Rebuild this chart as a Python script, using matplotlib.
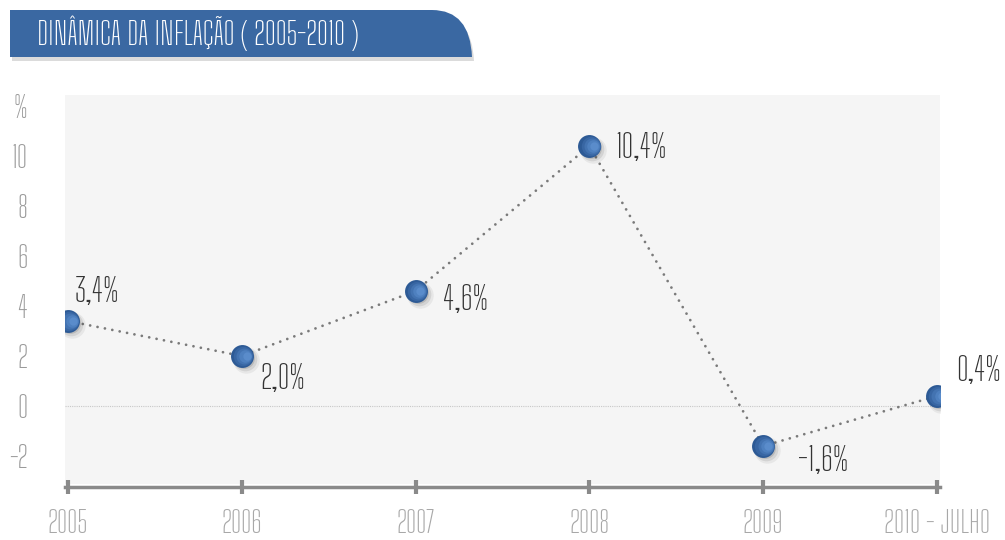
import matplotlib
matplotlib.use("Agg")
from matplotlib import pyplot as plt
from matplotlib.path import Path
from matplotlib.patches import PathPatch
import matplotlib.transforms as mtransforms

years = ["2005", "2006", "2007", "2008", "2009", "2010 - JULHO"]
inflation = [3.4, 2.0, 4.6, 10.4, -1.6, 0.4]
value_labels = ["3,4%", "2,0%", "4,6%", "10,4%", "-1,6%", "0,4%"]
y_ticks = [-2, 0, 2, 4, 6, 8, 10, 12]
y_tick_labels = ["-2", "0", "2", "4", "6", "8", "10", "%"]
title = "DINÂMICA DA INFLAÇÃO ( 2005-2010 )"

# label offsets in pixels from each marker
label_offsets = [(7, 28), (19, -23), (27, -10), (26, -3), (35, -15), (19, 25)]

FONT = ["Big Shoulders Text", "Pathway Gothic One", "DejaVu Sans"]
plt.rcParams["font.family"] = FONT
plt.rcParams["font.weight"] = 300

W, H = 1005, 540
fig = plt.figure(figsize=(W / 100, H / 100), dpi=100)
fig.patch.set_facecolor("white")

# axes box in pixels: left 65, right 940, top 95, bottom 484
ax = fig.add_axes([65 / W, 1 - 484 / H, (940 - 65) / W, (484 - 95) / H])
ax.set_facecolor("#f5f5f5")

x = list(range(len(years)))
px_per_unit = 869 / 5
ax.set_xlim(-3 / px_per_unit, 5 + 3 / px_per_unit)
ax.set_ylim(-(484 - 406) / 25, (406 - 95) / 25)

# zero line
ax.axhline(0, color="#c8c8c8", lw=0.8, ls=(0, (1, 1)), zorder=1)

# dotted connecting line
ax.plot(x, inflation, color="#7a7a7a", lw=2.0, ls=(0, (0.01, 2.7)), zorder=2,
        dash_capstyle="round")

# marker shadow
for dx, dy, a, s in [(4, -4, 0.08, 19), (3, -3, 0.12, 17), (2, -2, 0.18, 15)]:
    tr = mtransforms.offset_copy(ax.transData, fig=fig, x=dx, y=dy, units="dots")
    ax.plot(x, inflation, "o", ms=s, color="#444444", alpha=a, mec="none",
            transform=tr, zorder=3)

# markers with simple shading
ax.plot(x, inflation, "o", ms=16.5, color="#2d5a95", mec="none", zorder=4)
for dx, s, c in [(1.2, 14, "#3866a3"), (2.4, 11.5, "#4373b1"),
                 (3.6, 9, "#4e80bf"), (4.8, 6, "#5a8ccb")]:
    tr = mtransforms.offset_copy(ax.transData, fig=fig, x=dx, y=0, units="dots")
    ax.plot(x, inflation, "o", ms=s, color=c, mec="none", transform=tr,
            zorder=5)

for xi, yi, lab, (ox, oy) in zip(x, inflation, value_labels, label_offsets):
    ax.annotate(lab, (xi, yi), xytext=(ox, oy), textcoords="offset pixels",
                ha="left", va="center", fontsize=24, color="#333333",
                zorder=6)

ax.set_yticks(y_ticks)
ax.set_yticklabels(y_tick_labels)
ax.tick_params(axis="y", length=0, pad=27, labelsize=21,
               labelcolor="#9a9a9a")
ax.set_xticks(x)
ax.set_xticklabels(years)
ax.tick_params(axis="x", direction="inout", length=10, width=3,
               color="#8a8a8a", pad=11, labelsize=21, labelcolor="#a8a8a8")
for side in ["top", "left", "right"]:
    ax.spines[side].set_visible(False)
ax.spines["bottom"].set_color("#8a8a8a")
ax.spines["bottom"].set_linewidth(2.5)
ax.spines["bottom"].set_position(("outward", 2))

# title banner
def fp(px, py):
    return (px / W, 1 - py / H)

verts = [fp(10, 57), fp(10, 10), fp(432, 10), fp(470, 10), fp(472, 57), fp(10, 57)]
codes = [Path.MOVETO, Path.LINETO, Path.LINETO, Path.CURVE3, Path.CURVE3,
         Path.CLOSEPOLY]
shadow_verts = [(vx + 2 / W, vy - 4 / H) for vx, vy in verts]
fig.add_artist(PathPatch(Path(shadow_verts, codes), fc="#999999", ec="none",
                         alpha=0.35, transform=fig.transFigure))
fig.add_artist(PathPatch(Path(verts, codes), fc="#3a68a2", ec="none",
                         transform=fig.transFigure))
fig.text(37 / W, 1 - 33 / H, title, color="white", fontsize=22.5, ha="left",
         va="center")

plt.savefig("out.png", dpi=100)
